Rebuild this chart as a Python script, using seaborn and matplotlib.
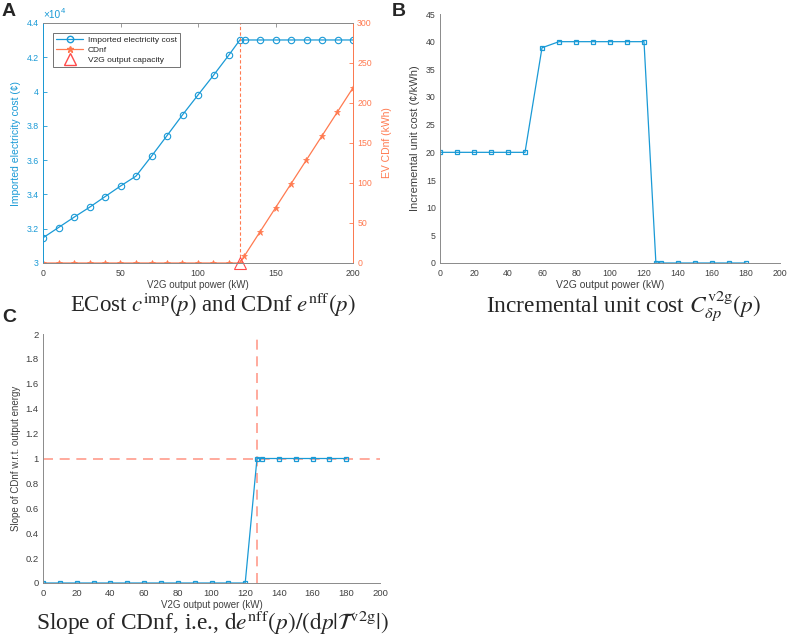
import numpy as np
import pandas as pd
import seaborn as sns
import matplotlib.pyplot as plt
from matplotlib.ticker import FuncFormatter, MultipleLocator
from matplotlib.lines import Line2D

# panel A: imported electricity cost and CDnf vs V2G output power
power_a = [0, 10, 20, 30, 40, 50, 60, 70, 80, 90, 100, 110, 120, 127,
           130, 140, 150, 160, 170, 180, 190, 200]
imp_cost = [31470, 32070, 32670, 33250, 33870, 34490, 35070, 36230, 37430,
            38640, 39800, 40950, 42140, 43010, 43010, 43010, 43010, 43010,
            43010, 43010, 43010, 43010]
cdnf = [0, 0, 0, 0, 0, 0, 0, 0, 0, 0, 0, 0, 0, 0,
        9, 39, 69, 99, 129, 159, 189, 219]
v2g_capacity = 127

# panel B: incremental unit cost
power_b = [0, 10, 20, 30, 40, 50, 60, 70, 80, 90, 100, 110, 120, 127,
           130, 140, 150, 160, 170, 180]
unit_cost = [20, 20, 20, 20, 20, 20, 38.9, 40, 40, 40, 40, 40, 40, 0,
             0, 0, 0, 0, 0, 0]

# panel C: slope of CDnf
slope = [0, 0, 0, 0, 0, 0, 0, 0, 0, 0, 0, 0, 0, 1,
         1, 1, 1, 1, 1, 1]

BLUE = "#1a9ad6"
ORANGE = "#ff7a50"
RED = "#ff4a4a"
SALMON = "#ff9c8c"
GREY = "#404040"
AXGREY = "#8a8a8a"

sns.set_style("white")
plt.rcParams["font.family"] = ["Liberation Sans", "DejaVu Sans"]
plt.rcParams["mathtext.fontset"] = "stix"
plt.rcParams["xtick.direction"] = "in"
plt.rcParams["ytick.direction"] = "in"
plt.rcParams["xtick.major.size"] = 3
plt.rcParams["ytick.major.size"] = 3
plt.rcParams["xtick.major.pad"] = 4
plt.rcParams["ytick.major.pad"] = 3
plt.rcParams["axes.linewidth"] = 0.7

fig = plt.figure(figsize=(7.89, 6.42), dpi=100)
W, H = 789, 642


def box(l, t, r, b):
    return [l / W, 1 - b / H, (r - l) / W, (b - t) / H]


def style_axis(ax, size=6.3):
    for s in ax.spines.values():
        s.set_color(AXGREY)
    ax.tick_params(axis="both", labelsize=size, colors=AXGREY,
                   labelcolor=GREY, width=0.6)


# ---------- A ----------
df_a = pd.DataFrame({"power": power_a, "cost": imp_cost, "cdnf": cdnf})
ax1 = fig.add_axes(box(43, 23, 353, 263))
sns.lineplot(data=df_a, x="power", y="cost", ax=ax1, color=BLUE, lw=0.9,
             marker="o", markersize=4.6, markerfacecolor="none",
             markeredgecolor=BLUE, markeredgewidth=0.8)
ax1.set_xlim(0, 200)
ax1.set_ylim(30000, 44000)
ax1.yaxis.set_major_locator(MultipleLocator(2000))
ax1.xaxis.set_major_locator(MultipleLocator(50))
ax1.yaxis.set_major_formatter(FuncFormatter(lambda v, _: f"{v / 1e4:g}"))
style_axis(ax1)
ax1.tick_params(axis="y", labelcolor=BLUE, colors=BLUE)
ax1.tick_params(axis="x", top=True)
ax1.set_xlabel("V2G output power (kW)", fontsize=7, color=GREY, labelpad=1.5)
ax1.set_ylabel("Imported electricity cost (¢)", fontsize=7.5, color=BLUE, labelpad=4)
ax1.text(0.0, 1.012, "×10", transform=ax1.transAxes, color=BLUE,
         fontsize=7.3, ha="left", va="bottom")
ax1.text(0.057, 1.035, "4", transform=ax1.transAxes, color=BLUE,
         fontsize=5.5, ha="left", va="bottom")

ax2 = ax1.twinx()
sns.lineplot(data=df_a, x="power", y="cdnf", ax=ax2, color=ORANGE, lw=0.9,
             marker="*", markersize=5, markeredgecolor=ORANGE, markeredgewidth=0.5)
ax2.set_ylim(0, 300)
ax2.yaxis.set_major_locator(MultipleLocator(50))
ax2.tick_params(axis="y", labelsize=6.3, colors=ORANGE, labelcolor=ORANGE, width=0.6)
ax2.spines["right"].set_color(ORANGE)
ax2.spines["left"].set_color(BLUE)
ax2.spines["top"].set_color(AXGREY)
ax2.spines["bottom"].set_color(AXGREY)
ax2.set_ylabel("EV CDnf (kWh)", fontsize=7.5, color=ORANGE, labelpad=7)
ax2.axvline(v2g_capacity, color=ORANGE, lw=0.8, ls=(0, (3, 2)))
ax2.plot([v2g_capacity], [0], marker="^", markersize=8, markerfacecolor="none",
         markeredgecolor=RED, markeredgewidth=0.8, clip_on=False, ls="none")

handles = [
    Line2D([], [], color=BLUE, lw=0.9, marker="o", markersize=4.6,
           markerfacecolor="none", markeredgecolor=BLUE),
    Line2D([], [], color=ORANGE, lw=0.9, marker="*", markersize=5),
    Line2D([], [], color=RED, lw=0, marker="^", markersize=8,
           markerfacecolor="none", markeredgecolor=RED),
]
leg = ax2.legend(handles, ["Imported electricity cost", "CDnf", "V2G output capacity"],
                 loc="upper left", bbox_to_anchor=(0.02, 0.975), fontsize=6,
                 frameon=True, fancybox=False, edgecolor="#333333",
                 handlelength=3.2, borderpad=0.35, labelspacing=0.25,
                 handletextpad=0.6)
leg.get_frame().set_linewidth(0.6)

# ---------- B ----------
df_b = pd.DataFrame({"power": power_b, "cost": unit_cost, "slope": slope})
ax3 = fig.add_axes(box(440, 14, 780, 263))
sns.lineplot(data=df_b, x="power", y="cost", ax=ax3, color=BLUE, lw=0.9,
             marker="s", markersize=3.3, markerfacecolor="none",
             markeredgecolor=BLUE, markeredgewidth=0.9)
ax3.set_xlim(0, 200)
ax3.set_ylim(0, 45)
ax3.xaxis.set_major_locator(MultipleLocator(20))
ax3.yaxis.set_major_locator(MultipleLocator(5))
sns.despine(ax=ax3)
style_axis(ax3)
ax3.set_xlabel("V2G output power (kW)", fontsize=7.5, color=GREY, labelpad=1.5)
ax3.set_ylabel("Incremental unit cost (¢/kWh)", fontsize=8, color=GREY, labelpad=4)

# ---------- C ----------
ax4 = fig.add_axes(box(43, 334, 380, 583))
ax4.axvline(v2g_capacity, color=SALMON, lw=1.2, ls=(0, (6, 4)))
ax4.axhline(1, color=SALMON, lw=1.2, ls=(0, (6, 4)))
sns.lineplot(data=df_b, x="power", y="slope", ax=ax4, color=BLUE, lw=0.9,
             marker="s", markersize=3.3, markerfacecolor="none",
             markeredgecolor=BLUE, markeredgewidth=0.9)
ax4.set_xlim(0, 200)
ax4.set_ylim(0, 2)
ax4.xaxis.set_major_locator(MultipleLocator(20))
ax4.yaxis.set_major_locator(MultipleLocator(0.2))
ax4.yaxis.set_major_formatter(FuncFormatter(lambda v, _: f"{v:g}"))
sns.despine(ax=ax4)
style_axis(ax4, size=6.8)
ax4.set_xlabel("V2G output power (kW)", fontsize=7, color=GREY, labelpad=1.5)
ax4.set_ylabel("Slope of CDnf w.r.t. output energy", fontsize=7, color=GREY, labelpad=3)

# ---------- captions and panel letters ----------
serif = dict(family=["Liberation Serif", "DejaVu Serif"], ha="center", va="center")
fig.text(213 / W, 1 - 305 / H,
         r"ECost $c^{\mathrm{imp}}(p)$ and CDnf $e^{\mathrm{nff}}(p)$",
         fontsize=16.5, **serif)
fig.text(623 / W, 1 - 306 / H,
         r"Incremental unit cost $C^{\mathrm{v2g}}_{\delta p}(p)$",
         fontsize=16.8, **serif)
fig.text(212 / W, 1 - 623 / H,
         r"Slope of CDnf, i.e., $\mathrm{d}e^{\mathrm{nff}}(p)/(\mathrm{d}p|\mathcal{T}^{\mathrm{v2g}}|)$",
         fontsize=16.8, **serif)

for letter, x, y in [("A", 2, 11), ("B", 392, 12), ("C", 2, 318)]:
    fig.text(x / W, 1 - y / H, letter, fontsize=14, fontweight="bold",
             ha="left", va="center")

fig.savefig("out.png", dpi=100)
